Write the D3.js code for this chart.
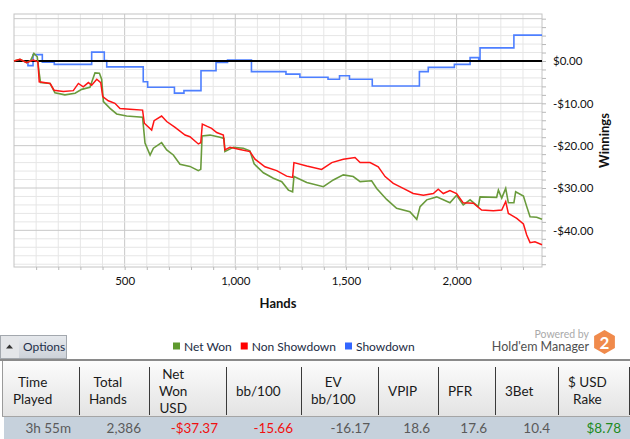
<!DOCTYPE html>
<html>
<head>
<meta charset="utf-8">
<script src="https://cdn.jsdelivr.net/npm/d3@7"></script>
<style>
  body { margin: 0; background: #fff; }
  svg { display: block; font-family: Lato, "Open Sans", sans-serif; }
</style>
</head>
<body>
<div id="chart"></div>
<script>
// values, [hand, winnings in $]
var netWon = [[0,0],[27,0.4],[57,-0.4],[75,0.1],[90,1.8],[105,1.0],[114,-2.9],[120,-5.1],[163,-5.3],[185,-7.5],
  [230,-8.0],[276,-7.6],[306,-6.7],[343,-6.2],[366,-2.8],[386,-2.9],[396,-4.3],[404,-9.6],[434,-11.2],[464,-12.5],
  [509,-13.0],[581,-13.3],[592,-19.4],[615,-22.2],[630,-20.6],[667,-19.3],[690,-21.0],[720,-22.2],[750,-24.4],[795,-24.9],
  [833,-25.9],[844,-25.6],[850,-17.7],[886,-17.5],[931,-18.0],[949,-18.3],[953,-21.4],[991,-20.4],[1036,-20.6],[1066,-21.2],
  [1085,-24.3],[1127,-26.4],[1172,-27.7],[1210,-28.5],[1240,-30.5],[1259,-30.9],[1265,-27.3],[1323,-28.7],[1398,-29.7],[1443,-28.1],
  [1488,-26.9],[1533,-27.3],[1564,-28.5],[1616,-28.3],[1639,-30.1],[1684,-32.7],[1729,-34.8],[1789,-35.6],[1820,-37.4],[1835,-34.4],
  [1865,-32.8],[1910,-32.1],[1940,-32.8],[1970,-33.5],[2000,-31.7],[2030,-34.0],[2061,-32.8],[2098,-34.4],[2106,-32.1],[2181,-32.2],
  [2189,-30.5],[2204,-32.4],[2222,-30.1],[2234,-33.5],[2259,-33.5],[2267,-30.9],[2302,-31.9],[2317,-34.4],[2332,-36.8],[2362,-36.9],[2386,-37.4]];

var nonShowdown = [[0,0],[27,0.4],[57,-0.4],[87,0.2],[108,-0.2],[114,-4.9],[163,-5.3],[181,-6.9],[223,-7.2],[268,-7.0],
  [291,-5.3],[313,-6.1],[336,-5.1],[351,-5.7],[374,-4.3],[392,-5.1],[401,-8.4],[426,-9.4],[456,-10.0],[479,-11.2],
  [524,-11.4],[581,-11.6],[589,-14.7],[622,-16.3],[633,-14.1],[667,-13.0],[690,-14.3],[728,-15.7],[773,-17.5],[795,-17.9],
  [833,-19.6],[844,-19.3],[851,-14.9],[871,-15.4],[893,-15.9],[916,-16.9],[946,-17.5],[953,-21.0],[976,-20.4],[1021,-20.9],
  [1066,-21.4],[1089,-23.2],[1134,-25.0],[1187,-25.9],[1232,-27.2],[1259,-27.5],[1265,-24.0],[1323,-24.8],[1390,-25.6],[1436,-24.0],
  [1488,-23.2],[1541,-22.8],[1564,-24.0],[1609,-24.0],[1646,-25.0],[1677,-27.3],[1714,-28.9],[1759,-30.1],[1804,-31.3],[1850,-31.7],
  [1895,-31.3],[1917,-30.3],[1940,-31.3],[1970,-30.6],[2000,-31.3],[2030,-33.5],[2076,-33.6],[2113,-35.2],[2166,-35.4],[2204,-35.2],
  [2222,-33.2],[2234,-36.0],[2272,-37.2],[2302,-38.5],[2317,-41.1],[2332,-42.9],[2354,-42.7],[2386,-43.4]];

var showdown = [[0,0],[63,-1.1],[86,1.5],[128,-0.3],[182,-0.8],[351,2.1],[408,0.1],[419,-1.4],[584,-4.9],[604,-6.2],
  [725,-7.6],[768,-7.0],[845,-2.3],[913,-0.35],[965,0.24],[1073,-2.5],[1229,-3.1],[1292,-3.85],[1419,-4.3],[1471,-3.5],
  [1516,-4.3],[1619,-5.9],[1832,-2.5],[1872,-1.5],[1990,-0.8],[2061,0.8],[2100,0.2],[2106,3.1],[2259,6.1],[2386,6.1]];

var totalHands = 2386;
var xLabelTicks = [500, 1000, 1500, 2000];
var yLabelTicks = [0, -10, -20, -30, -40];

var legendNames = ["Net Won", "Non Showdown", "Showdown"];
var legendColors = ["#5f9a2e", "#ff0000", "#3366ff"];

var tableHeaders = [["Time", "Played"], ["Total", "Hands"], ["Net", "Won", "USD"], ["bb/100"], ["EV", "bb/100"],
  ["VPIP"], ["PFR"], ["3Bet"], ["$ USD", "Rake"]];
var tableValues = ["3h 55m", "2,386", "-$37.37", "-15.66", "-16.17", "18.6", "17.6", "10.4", "$8.78"];
var valueColors = ["#5a5a5a", "#5a5a5a", "#f01010", "#f01010", "#5a5a5a", "#5a5a5a", "#5a5a5a", "#5a5a5a", "#1d8a1d"];

var width = 630,
    height = 439;
var plot = { left: 14, top: 14, right: 542, bottom: 267 };
var colEdges = [3, 79, 149, 226, 301, 378, 438, 495, 558, 629];

var svg, x, y;

createSVG();
drawGrid();
drawAxes();
drawLines();
drawLegend();
drawOptionsButton();
drawTable();

function createSVG() {
  svg = d3.select("#chart")
    .append("svg")
      .attr("width", width)
      .attr("height", height);

  var defs = svg.append("defs");
  addGradient(defs, "headerGrad", "#fcfcfc", "#e3e3e3");
  addGradient(defs, "buttonGrad", "#e6e9ed", "#cdd2d9");

  x = d3.scaleLinear().domain([0, totalHands]).range([plot.left, plot.right]);
  y = d3.scaleLinear().domain([-48.66, 11.1]).range([plot.bottom, plot.top]);
}

function addGradient(defs, id, top, bottom) {
  var g = defs.append("linearGradient")
    .attr("id", id)
    .attr("x1", 0).attr("y1", 0).attr("x2", 0).attr("y2", 1);
  g.append("stop").attr("offset", "0%").attr("stop-color", top);
  g.append("stop").attr("offset", "100%").attr("stop-color", bottom);
}

function drawGrid() {
  var grid = svg.append("g").attr("class", "grid");
  var xs = d3.range(100, totalHands, 100);
  var ys = d3.range(-48, 11, 2);

  grid.selectAll("line.v")
    .data(xs)
    .enter()
      .append("line")
      .attr("x1", function(d) { return x(d); })
      .attr("x2", function(d) { return x(d); })
      .attr("y1", plot.top)
      .attr("y2", plot.bottom)
      .attr("stroke", function(d) { return d % 500 === 0 ? "#c8c8c8" : "#e6e6e6"; });

  grid.selectAll("line.h")
    .data(ys.filter(function(d) { return d !== 0; }))
    .enter()
      .append("line")
      .attr("x1", plot.left)
      .attr("x2", plot.right)
      .attr("y1", function(d) { return y(d); })
      .attr("y2", function(d) { return y(d); })
      .attr("stroke", function(d) { return d % 10 === 0 ? "#c8c8c8" : "#e6e6e6"; });

  grid.append("rect")
    .attr("x", plot.left)
    .attr("y", plot.top)
    .attr("width", plot.right - plot.left)
    .attr("height", plot.bottom - plot.top)
    .attr("fill", "none")
    .attr("stroke", "#c4c4c4");
}

function moneyFormat(d) {
  return (d < 0 ? "-" : "") + "$" + Math.abs(d).toFixed(2);
}

function drawAxes() {
  var xAxis = d3.axisBottom(x)
    .tickValues(d3.range(100, totalHands, 100))
    .tickSize(3)
    .tickPadding(7)
    .tickFormat(function(d) { return xLabelTicks.indexOf(d) >= 0 ? d3.format(",")(d) : ""; });

  var yAxis = d3.axisRight(y)
    .tickValues(d3.range(-48, 11, 2))
    .tickSize(4)
    .tickPadding(7)
    .tickFormat(function(d) { return yLabelTicks.indexOf(d) >= 0 ? moneyFormat(d) : ""; });

  var gx = svg.append("g")
    .attr("transform", "translate(0," + plot.bottom + ")")
    .call(xAxis);
  var gy = svg.append("g")
    .attr("transform", "translate(" + plot.right + ",0)")
    .call(yAxis);

  [gx, gy].forEach(function(g) {
    g.select(".domain").remove();
    g.selectAll(".tick line").attr("stroke", "#b8b8b8");
    g.selectAll(".tick text")
      .attr("fill", "#111")
      .style("font-family", "Lato, sans-serif")
      .style("font-size", "11.5px");
  });

  svg.append("text")
    .attr("x", (plot.left + plot.right) / 2)
    .attr("y", 307.5)
    .attr("text-anchor", "middle")
    .style("font-weight", "bold")
    .style("font-size", "13px")
    .attr("fill", "#111")
    .text("Hands");

  svg.append("text")
    .attr("transform", "translate(609," + (plot.top + plot.bottom) / 2 + ") rotate(-90)")
    .attr("text-anchor", "middle")
    .style("font-weight", "bold")
    .style("font-size", "13px")
    .attr("fill", "#111")
    .text("Winnings");
}

function drawLines() {
  var line = d3.line()
    .x(function(d) { return x(d[0]); })
    .y(function(d) { return y(d[1]); });

  svg.append("path")
    .datum(showdown)
    .attr("fill", "none")
    .attr("stroke", "#4d7fff")
    .attr("stroke-width", 1.6)
    .attr("d", line.curve(d3.curveStepAfter));

  // zero line
  svg.append("line")
    .attr("x1", plot.left)
    .attr("x2", plot.right)
    .attr("y1", y(0))
    .attr("y2", y(0))
    .attr("stroke", "#000")
    .attr("stroke-width", 2);

  line.curve(d3.curveLinear);

  svg.append("path")
    .datum(netWon)
    .attr("fill", "none")
    .attr("stroke", "#6a9b3c")
    .attr("stroke-width", 1.6)
    .attr("d", line);

  svg.append("path")
    .datum(nonShowdown)
    .attr("fill", "none")
    .attr("stroke", "#ff1414")
    .attr("stroke-width", 1.5)
    .attr("d", line);
}

function drawLegend() {
  var legend = svg.append("g").attr("class", "legend");
  var cursor = 173;

  legendNames.forEach(function(name, i) {
    legend.append("rect")
      .attr("x", cursor)
      .attr("y", 342.5)
      .attr("width", 7)
      .attr("height", 7)
      .attr("fill", legendColors[i]);
    var t = legend.append("text")
      .attr("x", cursor + 11)
      .attr("y", 350.5)
      .attr("fill", "#1b2b44")
      .style("font-size", "12px")
      .text(name);
    cursor += 11 + t.node().getComputedTextLength() + 9;
  });

  // Hold'em Manager logo
  svg.append("text")
    .attr("x", 589).attr("y", 337.5)
    .attr("text-anchor", "end")
    .attr("fill", "#aaaaaa")
    .style("font-size", "10.5px")
    .text("Powered by");
  svg.append("text")
    .attr("x", 589).attr("y", 350.5)
    .attr("text-anchor", "end")
    .attr("fill", "#505050")
    .style("font-size", "12.5px")
    .text("Hold'em Manager");

  var hex = d3.range(6).map(function(i) {
    var a = Math.PI / 3 * i - Math.PI / 2;
    return [604.5 + 12 * Math.cos(a), 342 + 12 * Math.sin(a)];
  });
  svg.append("path")
    .attr("d", "M" + hex.join("L") + "Z")
    .attr("fill", "#f08a4b");
  svg.append("text")
    .attr("x", 604.5).attr("y", 348.5)
    .attr("text-anchor", "middle")
    .attr("fill", "#fff")
    .style("font-weight", "bold")
    .style("font-size", "17px")
    .text("2");
}

function drawOptionsButton() {
  var b = svg.append("g").attr("transform", "translate(0,335)");
  b.append("rect")
    .attr("x", 0.5).attr("y", 0.5)
    .attr("width", 66).attr("height", 23)
    .attr("fill", "url(#buttonGrad)")
    .attr("stroke", "#a3a8ae");
  b.append("rect")
    .attr("x", 1).attr("y", 1)
    .attr("width", 18).attr("height", 22)
    .attr("fill", "#e4e6e9");
  b.append("path")
    .attr("d", "M6,13.5L9.5,9.5L13,13.5Z")
    .attr("fill", "#333");
  b.append("text")
    .attr("x", 23).attr("y", 16)
    .attr("fill", "#1e2f4a")
    .style("font-size", "12px")
    .text("Options");
}

function drawTable() {
  var t = svg.append("g").attr("class", "table");

  t.append("rect")
    .attr("x", 2).attr("y", 361)
    .attr("width", width - 2).attr("height", 55)
    .attr("fill", "url(#headerGrad)");
  t.append("line")
    .attr("x1", 0).attr("x2", width)
    .attr("y1", 360).attr("y2", 360)
    .attr("stroke", "#8a8a8a").attr("stroke-width", 2);
  t.append("line")
    .attr("x1", 2).attr("x2", width)
    .attr("y1", 416.5).attr("y2", 416.5)
    .attr("stroke", "#a5a5a5");
  t.append("line")
    .attr("x1", 2.5).attr("x2", 2.5)
    .attr("y1", 361).attr("y2", 416)
    .attr("stroke", "#9a9a9a");

  t.selectAll("line.sep")
    .data(colEdges.slice(1))
    .enter()
      .append("line")
      .attr("x1", function(d) { return d + 0.5; })
      .attr("x2", function(d) { return d + 0.5; })
      .attr("y1", 367)
      .attr("y2", 415)
      .attr("stroke", "#3a3a3a");

  tableHeaders.forEach(function(lines, i) {
    var cell = t.append("text")
      .attr("text-anchor", "middle")
      .attr("fill", "#1a1a1a")
      .style("font-size", "13.5px");
    var first = 390.5 - (lines.length - 1) * 17 / 2 + 5;
    lines.forEach(function(l, j) {
      cell.append("tspan").attr("y", first + j * 17).text(l);
    });
    var w = d3.max(cell.selectAll("tspan").nodes(), function(n) { return n.getComputedTextLength(); });
    cell.selectAll("tspan").attr("x", colEdges[i] + 10 + w / 2);
  });

  t.append("rect")
    .attr("x", 4).attr("y", 417)
    .attr("width", width - 4).attr("height", 22)
    .attr("fill", "#c6d1dc");

  t.selectAll("text.val")
    .data(tableValues)
    .enter()
      .append("text")
      .attr("x", function(d, i) { return colEdges[i + 1] - 8; })
      .attr("y", 433)
      .attr("text-anchor", "end")
      .attr("fill", function(d, i) { return valueColors[i]; })
      .style("font-size", "13.5px")
      .text(function(d) { return d; });
}
</script>
</body>
</html>
